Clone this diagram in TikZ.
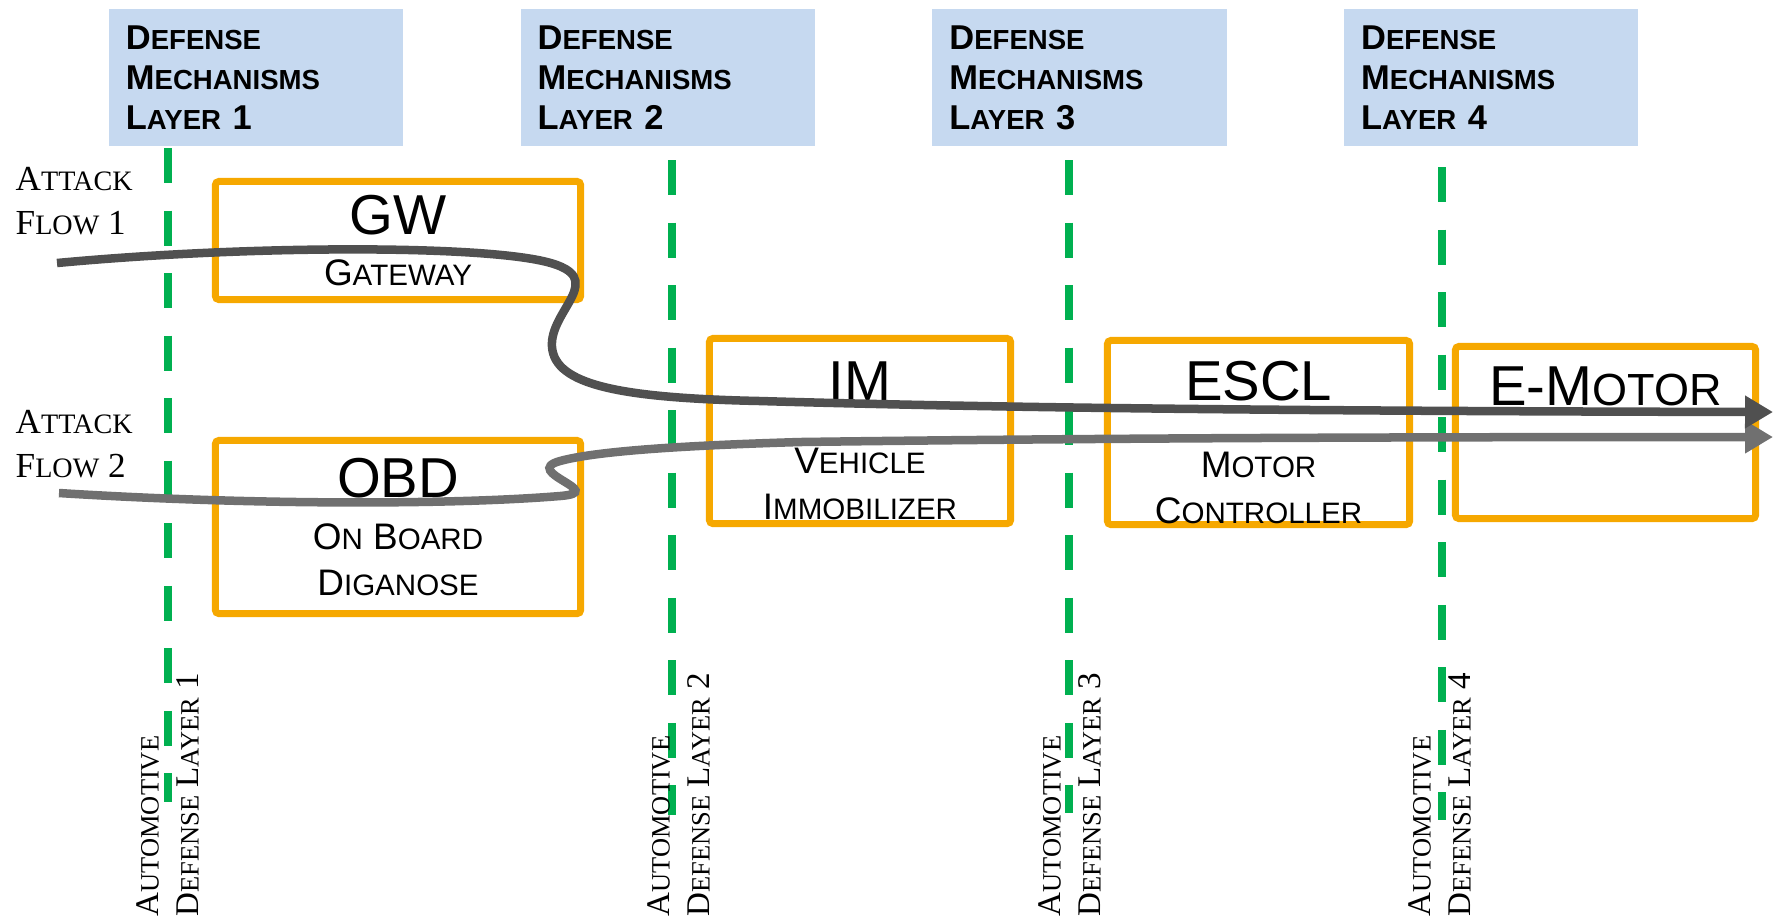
\documentclass[tikz,border=0pt]{standalone}
\usepackage{graphicx}
\usepackage{fontspec}
\setmainfont{Liberation Serif}
\newfontfamily\arial{Liberation Sans}
\usetikzlibrary{arrows.meta,positioning}

\definecolor{headblue}{RGB}{198,217,240}
\definecolor{unitorange}{RGB}{246,168,0}
\definecolor{guardgreen}{RGB}{0,176,80}
\definecolor{flowdark}{RGB}{80,80,80}
\definecolor{flowlight}{RGB}{112,112,112}

\newcommand\fsc[2]{#1\scalebox{0.8}{#2}}
\newcommand\unitname[1]{{\fontsize{16}{19}\selectfont #1}}

\begin{document}
\begin{tikzpicture}[x=0.01cm, y=-0.01cm, node distance=4.115cm,
  head/.style={fill=headblue, minimum width=2.94cm, minimum height=1.37cm,
    text width=2.6cm, inner xsep=0.17cm, inner ysep=0pt, align=left,
    font=\arial\bfseries\fontsize{9.8}{11.4}\selectfont},
  unit/.style={draw=unitorange, line width=0.07cm, rounded corners=1pt,
    inner sep=0pt, align=center, font=\arial\fontsize{10.5}{13.1}\selectfont},
  guard/.style={guardgreen, line width=0.08cm, dash pattern=on 0.35cm off 0.275cm},
  flow/.style={line width=0.085cm, -{Triangle[length=0.28cm,width=0.31cm]}},
  attack/.style={anchor=north west, inner sep=0pt, align=left,
    font=\fontsize{10}{12.3}\selectfont},
  layer/.style={rotate=90, anchor=north west, inner sep=0pt, align=left,
    font=\fontsize{9.4}{11.4}\selectfont}]
  \useasboundingbox (0,0) rectangle (1774,920);

  \node[head] (h1) at (256,77.5) {\fsc{D}{EFENSE}\\\fsc{M}{ECHANISMS}\\\fsc{L}{AYER} 1};
  \node[head, right of=h1] (h2) {\fsc{D}{EFENSE}\\\fsc{M}{ECHANISMS}\\\fsc{L}{AYER} 2};
  \node[head, right of=h2] (h3) {\fsc{D}{EFENSE}\\\fsc{M}{ECHANISMS}\\\fsc{L}{AYER} 3};
  \node[head, right of=h3] (h4) {\fsc{D}{EFENSE}\\\fsc{M}{ECHANISMS}\\\fsc{L}{AYER} 4};

  \foreach \x/\t/\b/\lx [count=\i] in {168/148/802/136, 672/160/815/647,
      1069/160/813/1038, 1442/167/820/1408} {
    \coordinate (top\i) at (\x,\t);
    \coordinate (bot\i) at (\x,\b);
    \draw[guard] (top\i) -- (bot\i);
    \node[layer] (lab\i) at (\lx,917) {\fsc{A}{UTOMOTIVE}\\\fsc{D}{EFENSE} \fsc{L}{AYER} \i};
  }

  \node[unit, minimum width=3.65cm, minimum height=1.18cm] (gw) at (398,240.5)
    {\unitname{GW}\\[0.04cm]\fsc{G}{ATEWAY}};
  \node[unit, minimum width=3.65cm, minimum height=1.73cm] (obd) at (398,527)
    {\unitname{OBD}\\[0.06cm]\fsc{O}{N} \fsc{B}{OARD}\\\fsc{D}{IGANOSE}};
  \node[unit, minimum width=3.01cm, minimum height=1.85cm] (im) at (860,431)
    {\unitname{\rule{0pt}{0.58cm}IM}\\[0.27cm]\fsc{V}{EHICLE}\\\fsc{I}{MMOBILIZER}};
  \node[unit, minimum width=3.02cm, minimum height=1.84cm] (escl) at (1258.5,432.5)
    {\unitname{\rule{0pt}{0.6cm}ESCL}\\[0.31cm]\fsc{M}{OTOR}\\\fsc{C}{ONTROLLER}};
  \node[unit, minimum width=3.0cm, minimum height=1.72cm] (emotor) at (1605.5,432.5)
    {\unitname{E-\fsc{M}{OTOR}\rule[-0.93cm]{0pt}{0pt}}};

  \node[attack] (af1) at (15,167) {\fsc{A}{TTACK}\\\fsc{F}{LOW} 1};
  \node[attack] (af2) at (15,410) {\fsc{A}{TTACK}\\\fsc{F}{LOW} 2};

  \coordinate (in1) at (57,263);
  \coordinate (out1) at (1773,412);
  \coordinate (in2) at (59,493);
  \coordinate (out2) at (1773,437);

  \draw[flow, flowlight] (in2) .. controls (250,505) and (450,505) .. (560,496)
    .. controls (610,492) and (520,472) .. (560,461)
    .. controls (600,450) and (700,445) .. (800,442)
    .. controls (1100,438) and (1400,437) .. (out2);
  \draw[flow, flowdark] (in1) .. controls (250,245) and (480,245) .. (547,262)
    .. controls (610,278) and (549,310) .. (552,347)
    .. controls (555,385) and (620,398) .. (760,401)
    .. controls (1000,408) and (1300,411) .. (out1);
\end{tikzpicture}
\end{document}
